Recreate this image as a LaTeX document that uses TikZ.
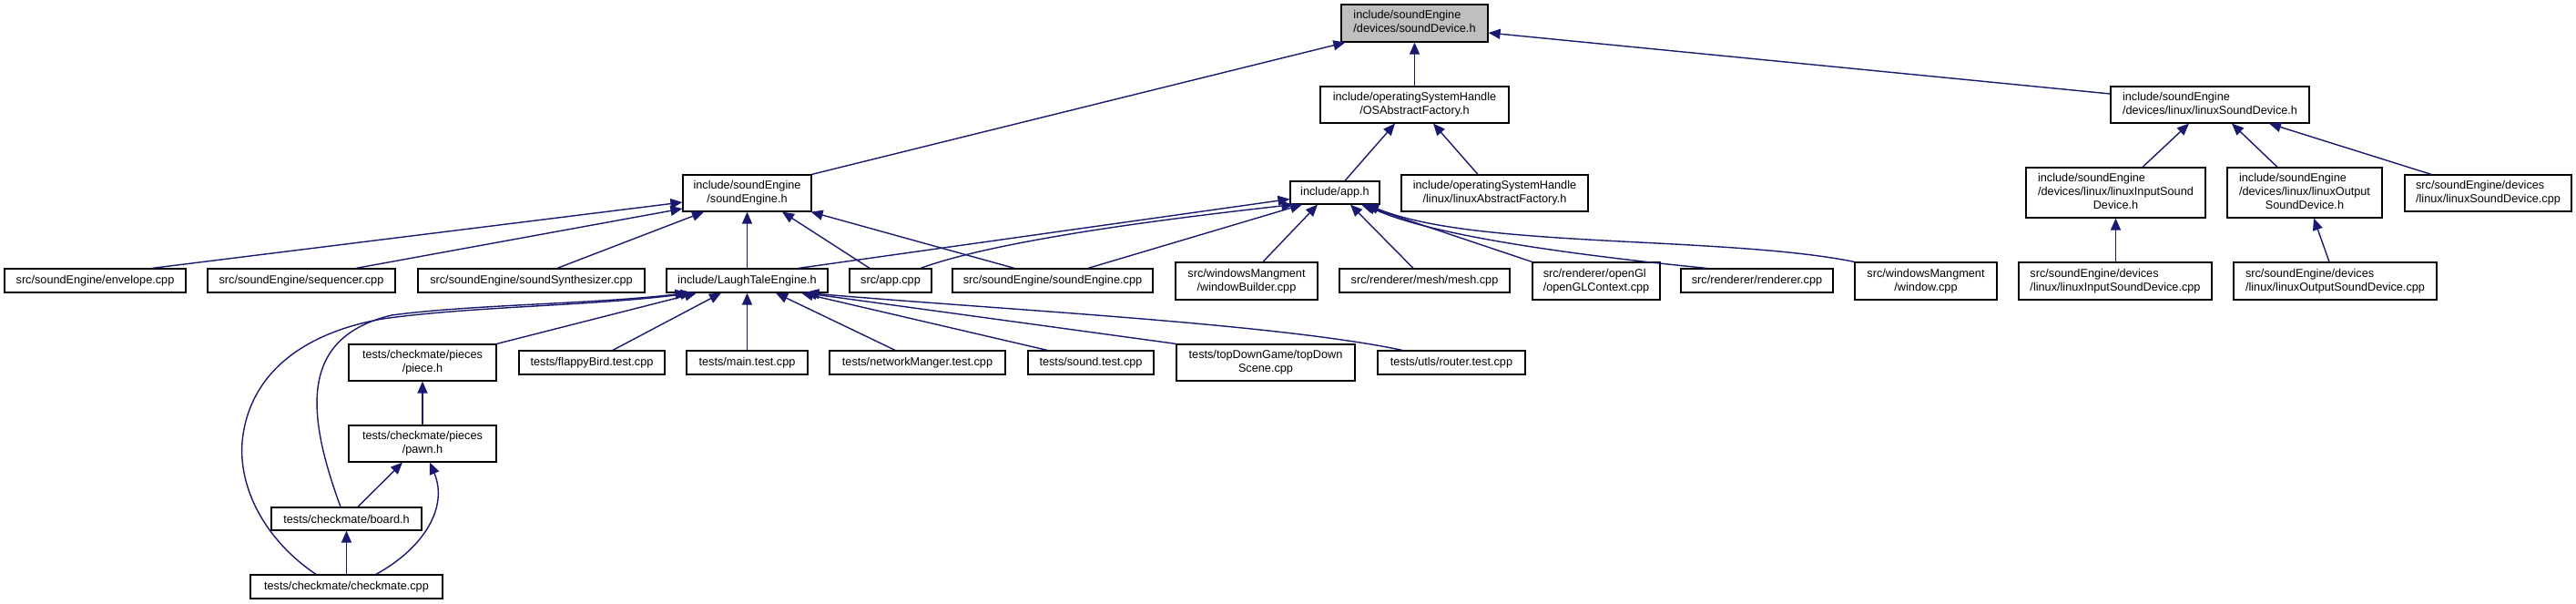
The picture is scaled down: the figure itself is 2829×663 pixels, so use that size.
\documentclass[tikz,border=0pt]{standalone}
\usepackage{fontspec}
\setmainfont{Liberation Sans}
\usetikzlibrary{arrows.meta}
\definecolor{edgeblue}{HTML}{191970}
\definecolor{rootgrey}{HTML}{BFBFBF}
\newcommand{\lbltwo}[2]{\begin{tabular}{@{}l@{}}#1\\\multicolumn{1}{@{}c@{}}{#2}\end{tabular}}
\newcommand{\lblthree}[3]{\begin{tabular}{@{}l@{}}#1\\#2\\\multicolumn{1}{@{}c@{}}{#3}\end{tabular}}
\tikzset{
  filebox/.style={draw=black, line width=1.2pt, fill=white, inner sep=0pt, align=center,
    font=\fontsize{12.7}{15}\selectfont},
  edge/.style={draw=edgeblue, line width=1.4pt, -{Triangle[length=13pt,width=11pt]}}
}
\begin{document}
\begin{tikzpicture}[x=1pt,y=-1pt]
\fill[white] (0,0) rectangle (2829,663);
\useasboundingbox (0,0) rectangle (2829,663);
% level 0
\node[filebox, fill=rootgrey, minimum width=161pt, minimum height=41pt] (sd) at (1553.5,25.5) {\lbltwo{include/soundEngine}{/devices/soundDevice.h}};
% level 1
\node[filebox, minimum width=207pt, minimum height=40pt] (osf) at (1553.5,115) {\lbltwo{include/operatingSystemHandle}{/OSAbstractFactory.h}};
\node[filebox, minimum width=218pt, minimum height=40pt] (lsd) at (2427,115) {\lbltwo{include/soundEngine}{/devices/linux/linuxSoundDevice.h}};
% level 2
\node[filebox, minimum width=141pt, minimum height=40pt] (seh) at (820.5,212) {\lbltwo{include/soundEngine}{/soundEngine.h}};
\node[filebox, minimum width=98pt, minimum height=25pt] (apph) at (1466,211.5) {include/app.h};
\node[filebox, minimum width=205pt, minimum height=40pt] (laf) at (1641.5,212) {\lbltwo{include/operatingSystemHandle}{/linux/linuxAbstractFactory.h}};
\node[filebox, minimum width=197pt, minimum height=55pt] (lisdh) at (2323.5,211.5) {\lblthree{include/soundEngine}{/devices/linux/linuxInputSound}{Device.h}};
\node[filebox, minimum width=170pt, minimum height=55pt] (losdh) at (2531,211.5) {\lblthree{include/soundEngine}{/devices/linux/linuxOutput}{SoundDevice.h}};
\node[filebox, minimum width=183pt, minimum height=40pt] (lsdcpp) at (2732.5,212) {\lbltwo{src/soundEngine/devices}{/linux/linuxSoundDevice.cpp}};
% level 3
\node[filebox, minimum width=199pt, minimum height=26pt] (env) at (104.5,308) {src/soundEngine/envelope.cpp};
\node[filebox, minimum width=206pt, minimum height=26pt] (seq) at (331,308) {src/soundEngine/sequencer.cpp};
\node[filebox, minimum width=249pt, minimum height=26pt] (syn) at (583.5,308) {src/soundEngine/soundSynthesizer.cpp};
\node[filebox, minimum width=177pt, minimum height=26pt] (lte) at (820.5,308) {include/LaughTaleEngine.h};
\node[filebox, minimum width=90pt, minimum height=26pt] (appcpp) at (978,308) {src/app.cpp};
\node[filebox, minimum width=220pt, minimum height=26pt] (secpp) at (1156,308) {src/soundEngine/soundEngine.cpp};
\node[filebox, minimum width=156pt, minimum height=41pt] (wb) at (1369,308.5) {\lbltwo{src/windowsMangment}{/windowBuilder.cpp}};
\node[filebox, minimum width=187pt, minimum height=26pt] (mesh) at (1564.5,308) {src/renderer/mesh/mesh.cpp};
\node[filebox, minimum width=140pt, minimum height=41pt] (ogl) at (1753,308.5) {\lbltwo{src/renderer/openGl}{/openGLContext.cpp}};
\node[filebox, minimum width=167pt, minimum height=26pt] (rend) at (1929.5,308) {src/renderer/renderer.cpp};
\node[filebox, minimum width=156pt, minimum height=41pt] (win) at (2115,308.5) {\lbltwo{src/windowsMangment}{/window.cpp}};
\node[filebox, minimum width=212pt, minimum height=41pt] (licpp) at (2323,308.5) {\lbltwo{src/soundEngine/devices}{/linux/linuxInputSoundDevice.cpp}};
\node[filebox, minimum width=223pt, minimum height=41pt] (locpp) at (2564.5,308.5) {\lbltwo{src/soundEngine/devices}{/linux/linuxOutputSoundDevice.cpp}};
% level 4
\node[filebox, minimum width=162pt, minimum height=40pt] (piece) at (464,398) {\lbltwo{tests/checkmate/pieces}{/piece.h}};
\node[filebox, minimum width=160pt, minimum height=26pt] (flappy) at (650,398) {tests/flappyBird.test.cpp};
\node[filebox, minimum width=133pt, minimum height=26pt] (maint) at (820.5,398) {tests/main.test.cpp};
\node[filebox, minimum width=193pt, minimum height=26pt] (net) at (1007.5,398) {tests/networkManger.test.cpp};
\node[filebox, minimum width=138pt, minimum height=26pt] (soundt) at (1198,398) {tests/sound.test.cpp};
\node[filebox, minimum width=196pt, minimum height=40pt] (tds) at (1390,398) {\lbltwo{tests/topDownGame/topDown}{Scene.cpp}};
\node[filebox, minimum width=162pt, minimum height=26pt] (router) at (1594,398) {tests/utls/router.test.cpp};
% level 5+
\node[filebox, minimum width=162pt, minimum height=40pt] (pawn) at (464,487) {\lbltwo{tests/checkmate/pieces}{/pawn.h}};
\node[filebox, minimum width=165pt, minimum height=25pt] (board) at (380.5,569.5) {tests/checkmate/board.h};
\node[filebox, minimum width=211pt, minimum height=26pt] (check) at (380.5,644) {tests/checkmate/checkmate.cpp};

% edges to soundDevice.h
\draw[edge] (seh.north east) -- ([xshift=5pt]sd.south west);
\draw[edge] (osf.north) -- (sd.south);
\draw[edge] ([yshift=12pt]lsd.west) -- ([yshift=-10.5pt]sd.east);
% edges to OSAbstractFactory.h
\draw[edge] ([xshift=11pt]apph.north) -- ([xshift=-21.5pt]osf.south);
\draw[edge] ([xshift=-18.5pt]laf.north) -- ([xshift=20.5pt]osf.south);
% edges to linuxSoundDevice.h
\draw[edge] ([xshift=29.5pt]lisdh.north) -- ([xshift=-23pt]lsd.south);
\draw[edge] ([xshift=-30pt]losdh.north) -- ([xshift=24pt]lsd.south);
\draw[edge] ([xshift=-62.5pt]lsdcpp.north) -- ([xshift=65pt]lsd.south);
\draw[edge] ([xshift=0.5pt]licpp.north) -- (lisdh.south);
\draw[edge] ([xshift=-6.5pt]locpp.north) -- ([xshift=10pt]losdh.south);
% edges to soundEngine.h
\draw[edge] ([xshift=62.5pt]env.north) -- ([yshift=-10pt]seh.west);
\draw[edge] ([xshift=60pt]seq.north) -- ([yshift=-17pt]seh.west);
\draw[edge] ([xshift=28.5pt]syn.north) -- ([xshift=-47.5pt]seh.south);
\draw[edge] (lte.north) -- (seh.south);
\draw[edge] ([xshift=-23pt]appcpp.north) -- ([xshift=38.5pt]seh.south);
\draw[edge] ([xshift=-42pt]secpp.north) -- ([xshift=-1pt]seh.south east);
% edges to app.h
\draw[edge] ([xshift=56.5pt]lte.north) -- ([yshift=-7pt]apph.west);
\draw[edge] ([xshift=33pt]appcpp.north) .. controls (1100,262) and (1300,238) .. ([xshift=4pt]apph.south west);
\draw[edge] ([xshift=39pt]secpp.north) -- ([xshift=-36pt]apph.south);
\draw[edge] ([xshift=18pt]wb.north) -- ([xshift=-19pt]apph.south);
\draw[edge] ([xshift=-12.5pt]mesh.north) -- ([xshift=17pt]apph.south);
\draw[edge] (ogl.north west) -- ([xshift=29pt]apph.south);
\draw[edge] ([xshift=-55.5pt]rend.north) .. controls (1760,283) and (1580,262) .. ([xshift=32pt]apph.south);
\draw[edge] (win.north west) .. controls (1980,276) and (1900,271) .. (1800,266) .. controls (1660,259) and (1570,252) .. ([xshift=35pt]apph.south);
% edges to LaughTaleEngine.h
\draw[edge] (piece.north east) -- ([xshift=-55.5pt]lte.south);
\draw[edge] ([xshift=23pt]flappy.north) -- ([xshift=-28.5pt]lte.south);
\draw[edge] (maint.north) -- (lte.south);
\draw[edge] ([xshift=-24.5pt]net.north) -- ([xshift=31.5pt]lte.south);
\draw[edge] ([xshift=-48pt]soundt.north) -- ([xshift=59.5pt]lte.south);
\draw[edge] (tds.north west) -- ([xshift=63pt]lte.south);
\draw[edge] ([xshift=-54pt]router.north) .. controls (1400,355) and (1100,340) .. ([xshift=66pt]lte.south);
\draw[edge] ([xshift=-6.5pt]board.north) .. controls (335,450) and (330,370) .. (430,346) .. controls (520,334) and (650,334) .. ([xshift=-66pt]lte.south);
\draw[edge] ([xshift=-33.5pt]check.north) .. controls (290,592) and (262,535) .. (266,485) .. controls (272,420) and (320,368) .. (420,350) .. controls (520,336) and (650,336) .. ([xshift=-60pt]lte.south);
% checkmate subtree
\draw[edge] (pawn.north) -- (piece.south);
\draw[edge] ([xshift=12.5pt]board.north) -- ([xshift=-22pt]pawn.south);
\draw[edge] (board.south |- check.north) -- (board.south);
\draw[edge] ([xshift=32.5pt]check.north) .. controls (468,600) and (492,555) .. ([xshift=8pt]pawn.south);
\end{tikzpicture}
\end{document}
